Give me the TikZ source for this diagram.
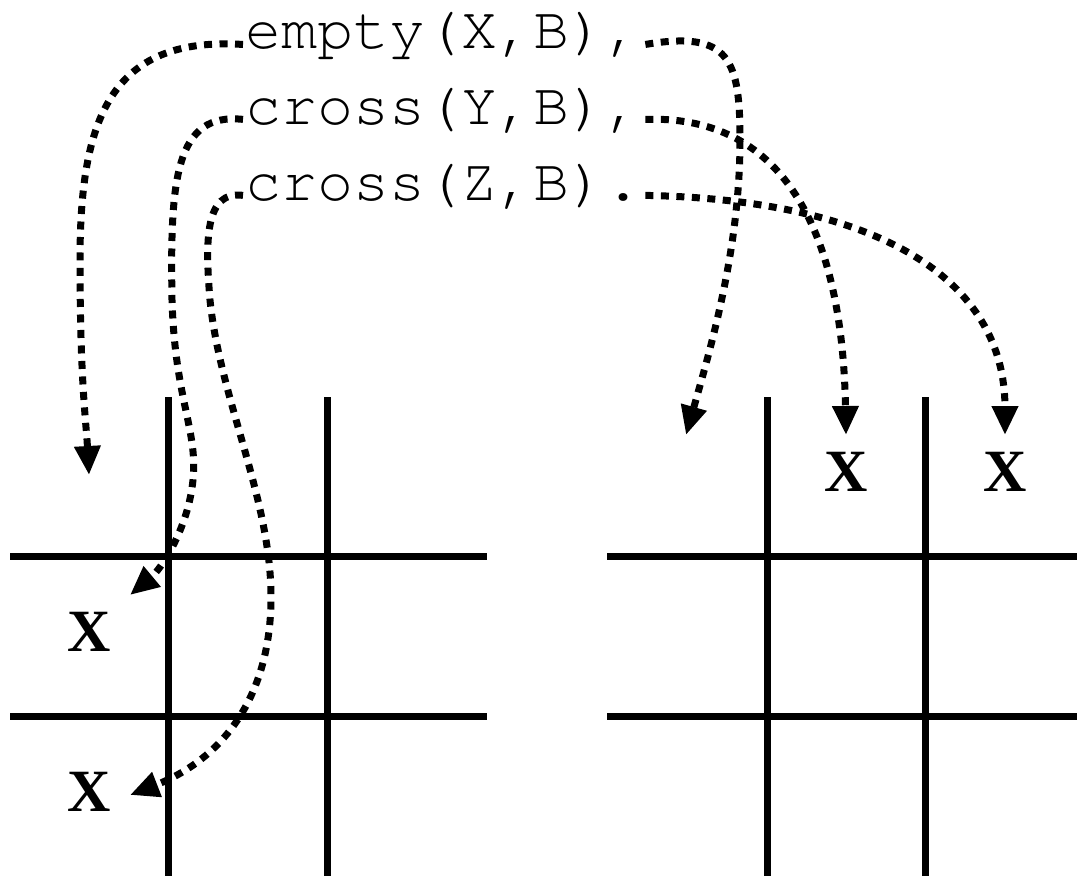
\documentclass[tikz,border=0pt]{standalone}
\usepackage{fontspec}
\setmainfont{Liberation Serif}
\newfontfamily\courfont{texgyrecursor-regular.otf}
\usetikzlibrary{arrows.meta}
\begin{document}
\begin{tikzpicture}[x=1pt,y=-1pt,
  gridline/.style={line width=7pt},
  flow/.style={line width=7pt,dash pattern=on 8pt off 7.5pt,
    -{Triangle[length=29pt,width=25pt]}},
  term/.style={inner sep=0pt,anchor=base west,font=\courfont\fontsize{60}{60}\selectfont},
  xmark/.style={inner sep=0pt,font=\bfseries\fontsize{60}{60}\selectfont}]
\useasboundingbox (0,0) rectangle (1077,876);
% left grid
\draw[gridline] (10,556) -- (487,556);
\draw[gridline] (10,716) -- (487,716);
\draw[gridline] (168,397) -- (168,876);
\draw[gridline] (327,397) -- (327,876);
% right grid
\draw[gridline] (607,556) -- (1077,556);
\draw[gridline] (607,716) -- (1077,716);
\draw[gridline] (767,397) -- (767,876);
\draw[gridline] (925,397) -- (925,876);
% marks
\node[xmark] (xl1) at (89,632) {X};
\node[xmark] (xl2) at (89,792) {X};
\node[xmark] (xr1) at (846,472) {X};
\node[xmark] (xr2) at (1005,472) {X};
% terms
\node[term] (t1) at (245,48) {empty(X,B),};
\node[term] (t2) at (245,124) {cross(Y,B),};
\node[term] (t3) at (245,200) {cross(Z,B).};
% arrow tips
\coordinate (a1) at (89,475);
\coordinate (a2) at (130,595);
\coordinate (a3) at (130,795);
\coordinate (b1) at (686,435);
\coordinate (b2) at (846,435);
\coordinate (b3) at (1005,435);
% left connectors
\draw[flow] ([xshift=-2pt,yshift=-9pt]t1.west) .. controls (110,36) and (80,120) .. (80,260)
  .. controls (80,380) and (86,420) .. (a1);
\draw[flow] ([xshift=-2pt,yshift=-9pt]t2.west) .. controls (175,112) and (170,180) .. (172,300)
  .. controls (175,400) and (198,430) .. (193,480) .. controls (188,530) and (160,570) .. (a2);
\draw[flow] ([xshift=-2pt,yshift=-9pt]t3.west) .. controls (205,190) and (205,240) .. (210,300)
  .. controls (220,400) and (272,500) .. (271,600) .. controls (270,700) and (220,760) .. (a3);
% right connectors
\draw[flow] ([xshift=4pt,yshift=-9pt]t1.east) .. controls (730,30) and (740,60) .. (740,140)
  .. controls (740,250) and (710,350) .. (b1);
\draw[flow] ([xshift=4pt,yshift=-9pt]t2.east) .. controls (770,115) and (842,210) .. (b2);
\draw[flow] ([xshift=4pt,yshift=-9pt]t3.east) .. controls (880,200) and (1005,280) .. (b3);
\end{tikzpicture}
\end{document}
